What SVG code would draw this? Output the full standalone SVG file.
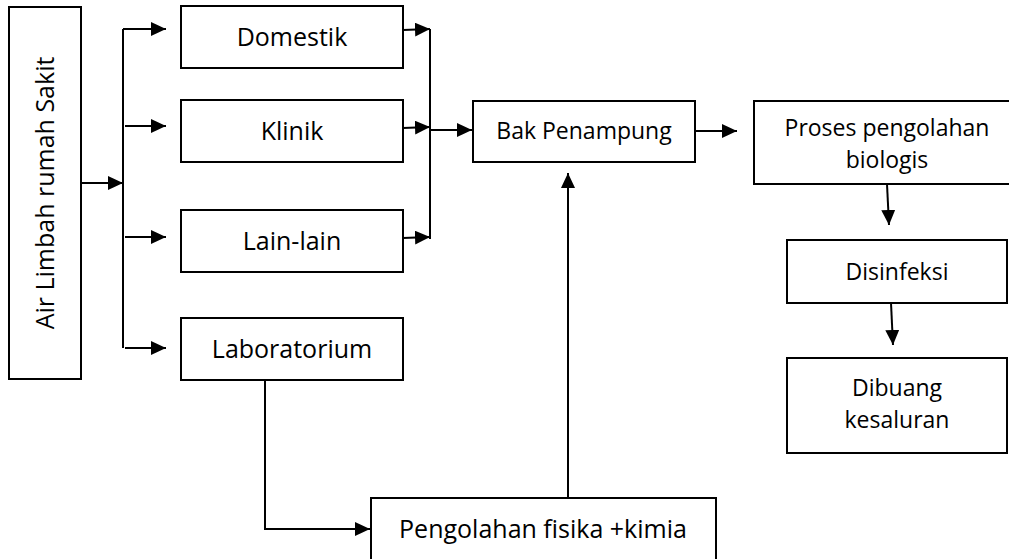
<svg xmlns="http://www.w3.org/2000/svg" width="1009" height="559" viewBox="0 0 1009 559">
<style>
.box{fill:#fff;stroke:#000;stroke-width:2}
.t{font-family:"Open Sans","Noto Sans",sans-serif;fill:#000;text-anchor:middle}
.l{font-size:25px}
.r{font-size:23px}
.c{fill:none;stroke:#000;stroke-width:2}
</style>
<defs>
<marker id="ah" markerUnits="userSpaceOnUse" markerWidth="16" markerHeight="14" refX="15" refY="7" orient="auto">
<path d="M0,0 L15,7 L0,14 Z" fill="#000"/>
</marker>
</defs>
<rect width="1009" height="559" fill="#fff"/>
<g id="connectors">
<path class="c" d="M81,183 H123" marker-end="url(#ah)"/>
<path class="c" d="M123,29 V348"/>
<path class="c" d="M123,29 H166" marker-end="url(#ah)"/>
<path class="c" d="M125,126 H166" marker-end="url(#ah)"/>
<path class="c" d="M125,237 H166" marker-end="url(#ah)"/>
<path class="c" d="M125,348 H166" marker-end="url(#ah)"/>
<path class="c" d="M403,30 L430,29" marker-end="url(#ah)"/>
<path class="c" d="M403,128 L430,127" marker-end="url(#ah)"/>
<path class="c" d="M403,238 L430,237" marker-end="url(#ah)"/>
<path class="c" d="M430,29 V239"/>
<path class="c" d="M430,130 H472" marker-end="url(#ah)"/>
<path class="c" d="M695,131 H737" marker-end="url(#ah)"/>
<path class="c" d="M887,184 L889,225" marker-end="url(#ah)"/>
<path class="c" d="M891,303 L893,345" marker-end="url(#ah)"/>
<path class="c" d="M265,380 V529 H370" marker-end="url(#ah)"/>
<path class="c" d="M568,498 V173" marker-end="url(#ah)"/>
</g>
<g id="air-limbah">
<rect class="box" x="9" y="7" width="72" height="372"/>
<text class="t l" transform="translate(54,193) rotate(-90)">Air Limbah rumah Sakit</text>
</g>
<g id="domestik">
<rect class="box" x="181" y="6" width="222" height="62"/>
<text class="t l" x="292" y="46">Domestik</text>
</g>
<g id="klinik">
<rect class="box" x="181" y="100" width="222" height="62"/>
<text class="t l" x="292" y="140">Klinik</text>
</g>
<g id="lain-lain">
<rect class="box" x="181" y="210" width="222" height="62"/>
<text class="t l" x="292" y="250">Lain-lain</text>
</g>
<g id="laboratorium">
<rect class="box" x="181" y="318" width="222" height="62"/>
<text class="t l" x="292" y="358">Laboratorium</text>
</g>
<g id="bak-penampung">
<rect class="box" x="473" y="101" width="222" height="61"/>
<text class="t r" x="584" y="139">Bak Penampung</text>
</g>
<g id="proses">
<rect class="box" x="754" y="101" width="280" height="83"/>
<text class="t r" x="887" y="136">Proses pengolahan</text>
<text class="t r" x="887" y="168">biologis</text>
</g>
<g id="disinfeksi">
<rect class="box" x="787" y="240" width="220" height="63"/>
<text class="t r" x="897" y="280">Disinfeksi</text>
</g>
<g id="dibuang">
<rect class="box" x="787" y="358" width="220" height="95"/>
<text class="t r" x="897" y="396">Dibuang</text>
<text class="t r" x="897" y="428">kesaluran</text>
</g>
<g id="pengolahan">
<rect class="box" x="371" y="498" width="345" height="80"/>
<text class="t l" x="543" y="538">Pengolahan fisika +kimia</text>
</g>
</svg>
